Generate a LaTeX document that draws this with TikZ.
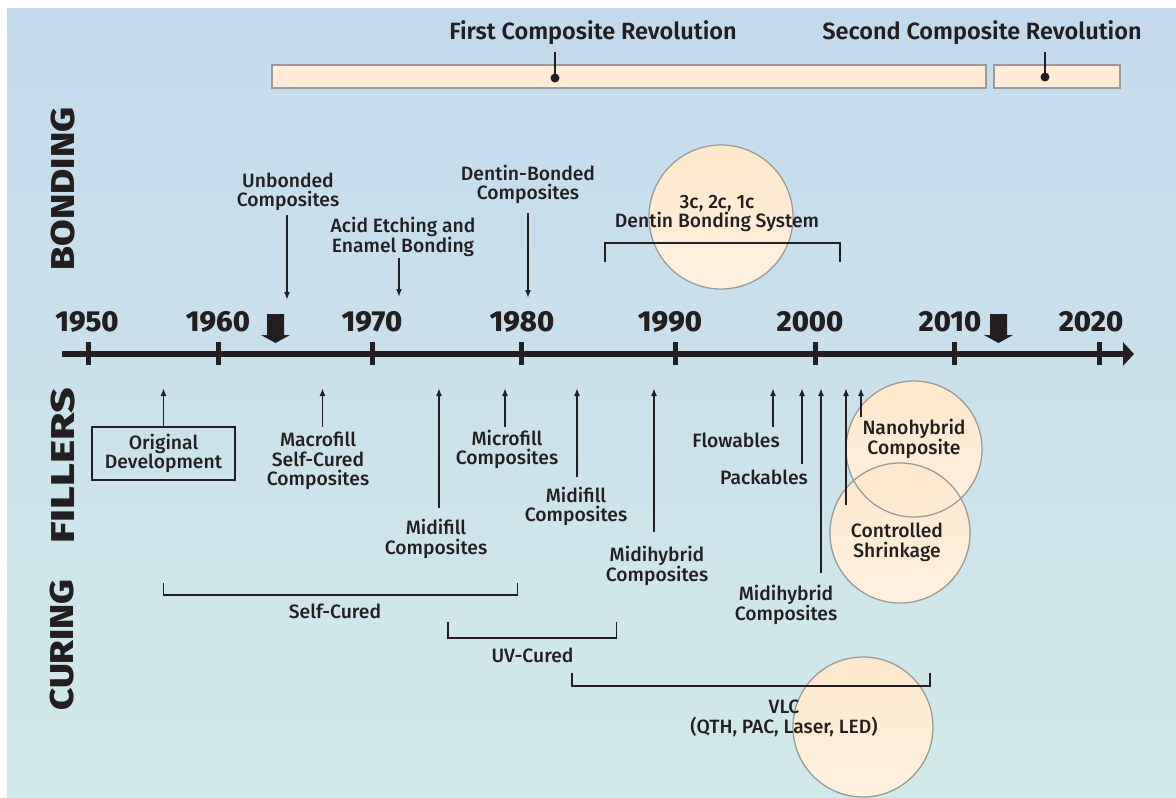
\documentclass[tikz,border=0pt]{standalone}
\usepackage{fontspec}
\setmainfont{Fira Sans}[UprightFont=* Medium, BoldFont=* SemiBold]
\newfontfamily\heavyfont{Fira Sans}[UprightFont=* ExtraBold]
\usetikzlibrary{arrows.meta}
\definecolor{txt}{HTML}{231F20}
\definecolor{bgtop}{HTML}{C3DAEE}
\definecolor{bgbot}{HTML}{D2E9E9}
\definecolor{circtop}{HTML}{FFE8CA}
\definecolor{circbot}{HTML}{FFF1E1}
\definecolor{barfill}{HTML}{FFEBD6}
\definecolor{edgegray}{HTML}{9A9A9A}
\newcommand\lblsize{\fontsize{19.3}{19.5}\selectfont}
\tikzset{
  lbl/.style={font=\lblsize, text=txt, align=center, inner sep=0pt},
  title/.style={font=\bfseries\fontsize{23.5}{26}\selectfont, text=txt, inner sep=0pt},
  yr/.style={font=\heavyfont\fontsize{29}{32}\selectfont, text=txt, inner sep=0pt},
  side/.style={font=\heavyfont\fontsize{33}{36}\selectfont, text=txt, inner sep=0pt, rotate=90},
  arr/.style={draw=txt, line width=1.6pt, -{Latex[length=8pt,width=6pt]}},
  brk/.style={draw=txt, line width=1.6pt},
  tick/.style={draw=txt, line width=5pt},
  axisline/.style={draw=txt, line width=6pt, -{Triangle[length=11pt,width=23pt]}},
  bar/.style={draw=edgegray, line width=1.8pt, fill=barfill, inner sep=0pt},
  pin/.style={draw=txt, line width=2pt},
  pindot/.style={circle, fill=txt, inner sep=0pt, minimum size=9pt},
  circfill/.style={circle, top color=circtop, bottom color=circbot, inner sep=0pt},
  circline/.style={draw=edgegray, line width=1.3pt},
  blockarrow/.style={fill=txt},
  box/.style={draw=txt, line width=1.6pt, inner sep=0pt, minimum width=143pt, minimum height=53pt, font=\lblsize, text=txt, align=center},
}
\begin{document}
\begin{tikzpicture}[x=1pt, y=-1pt]
\useasboundingbox (0,0) rectangle (1176,798);
\fill[white] (0,0) rectangle (1176,798);
\shade[top color=bgtop, bottom color=bgbot] (7,8) rectangle (1176,798);

% ---------- top revolution bars
\node[title] (t1) at (593,33) {First Composite Revolution};
\node[title] (t2) at (982,33) {Second Composite Revolution};
\node[bar, minimum width=714pt, minimum height=23pt] (bar1) at (629,76.5) {};
\node[bar, minimum width=126pt, minimum height=23pt] (bar2) at (1057,76.5) {};
\coordinate (p1top) at (555,52);
\node[pindot] (p1dot) at (555,78) {};
\draw[pin] (p1top) -- (p1dot.center);
\coordinate (p2top) at (1045,52);
\node[pindot] (p2dot) at (1045,77) {};
\draw[pin] (p2top) -- (p2dot.center);

% ---------- side labels
\node[side] (sb) at (63,189) {\scalebox{1.17}[1]{BONDING}};
\node[side] (sf) at (63,466) {\scalebox{1.34}[1]{FILLERS}};
\node[side] (sc) at (62,645) {\scalebox{1.16}[1]{CURING}};

% ---------- axis
\coordinate (axs) at (62,354);
\coordinate (axe) at (1134,354);
\draw[axisline] (axs) -- (axe);
\foreach \x/\n in {88/a,218/b,372/c,521/d,675/e,815/f,954/g,1099/h}{
  \coordinate (tk\n top) at (\x,342);
  \coordinate (tk\n bot) at (\x,365);
  \draw[tick] (tk\n top) -- (tk\n bot);
}
\node[yr] (y1950) at (87,322) {1950};
\node[yr] (y1960) at (218,322) {1960};
\node[yr] (y1970) at (372,322) {1970};
\node[yr] (y1980) at (522,322) {1980};
\node[yr] (y1990) at (670,322) {1990};
\node[yr] (y2000) at (810,322) {2000};
\node[yr] (y2010) at (950,322) {2010};
\node[yr] (y2020) at (1091,322) {2020};

% block arrows
\fill[blockarrow] (267,314) -- (284,314) -- (284,335) -- (290,335) -- (275.5,343) -- (261,335) -- (267,335) -- cycle;
\fill[blockarrow] (990,314) -- (1007,314) -- (1007,335) -- (1013,335) -- (998.5,343) -- (984,335) -- (990,335) -- cycle;

% ---------- bonding
\node[lbl] (unb) at (288,192) {Unbonded\\Composites};
\node[lbl] (acid) at (403,237) {Acid Etching and\\Enamel Bonding};
\node[lbl] (dbc) at (528,184.5) {Dentin-Bonded\\Composites};
\coordinate (unbS) at (287,215); \coordinate (unbE) at (287,300);
\coordinate (acidS) at (399,258); \coordinate (acidE) at (399,297);
\coordinate (dbcS) at (528,213); \coordinate (dbcE) at (528,298);
\draw[arr] (unbS) -- (unbE);
\draw[arr] (acidS) -- (acidE);
\draw[arr] (dbcS) -- (dbcE);

\node[circfill, minimum size=144pt] (cdbs) at (721,217) {};
\draw[circline] (cdbs.center) circle[radius=72];
\node[lbl] (dbs) at (717,213.5) {3c, 2c, 1c\\Dentin Bonding System};
\coordinate (dbsL) at (605,262); \coordinate (dbsR) at (840,262);
\draw[brk] (dbsL) -- (605,243) -- (840,243) -- (dbsR);

% ---------- fillers
\node[circfill, minimum size=136pt] (cnano) at (914,449) {};
\node[circfill, minimum size=140pt] (cctrl) at (900,533) {};
\draw[circline] (cnano.center) circle[radius=68];
\draw[circline] (cctrl.center) circle[radius=70];

\node[box] (orig) at (163.5,453.5) {Original\\Development};
\coordinate (origE) at (163.5,388);
\draw[arr] (orig.north) -- (origE);

\node[lbl] (macro) at (318,461) {Macrofill\\Self-Cured\\Composites};
\coordinate (macroS) at (322.5,427); \coordinate (macroE) at (322.5,388);
\draw[arr] (macroS) -- (macroE);

\node[lbl] (midi1) at (436,539) {Midifill\\Composites};
\coordinate (midi1S) at (439,508); \coordinate (midi1E) at (439,388);
\draw[arr] (midi1S) -- (midi1E);

\node[lbl] (micro) at (507,449.5) {Microfill\\Composites};
\coordinate (microS) at (505,427); \coordinate (microE) at (505,388);
\draw[arr] (microS) -- (microE);

\node[lbl] (midi2) at (576,506.5) {Midifill\\Composites};
\coordinate (midi2S) at (577,477); \coordinate (midi2E) at (577,388);
\draw[arr] (midi2S) -- (midi2E);

\node[lbl] (mh1) at (657,566) {Midihybrid\\Composites};
\coordinate (mh1S) at (654,532); \coordinate (mh1E) at (654,388);
\draw[arr] (mh1S) -- (mh1E);

\node[lbl] (flow) at (736,440) {Flowables};
\coordinate (flowS) at (773,427); \coordinate (flowE) at (773,388);
\draw[arr] (flowS) -- (flowE);

\node[lbl] (pack) at (764,477) {Packables};
\coordinate (packS) at (802,464); \coordinate (packE) at (802,388);
\draw[arr] (packS) -- (packE);

\node[lbl] (mh2) at (786,605) {Midihybrid\\Composites};
\coordinate (mh2S) at (821,573); \coordinate (mh2E) at (821,388);
\draw[arr] (mh2S) -- (mh2E);

\coordinate (ctrlS) at (846,505); \coordinate (ctrlE) at (846,388);
\draw[arr] (ctrlS) -- (ctrlE);
\coordinate (nanoS) at (861,417); \coordinate (nanoE) at (861,388);
\draw[arr] (nanoS) -- (nanoE);

\node[lbl] (nano) at (914,439) {Nanohybrid\\Composite};
\node[lbl] (ctrl) at (897,542.5) {Controlled\\Shrinkage};

% ---------- curing
\node[lbl] (self) at (335,611) {Self-Cured};
\coordinate (selfL) at (163.5,583); \coordinate (selfR) at (517.5,583);
\draw[brk] (selfL) -- (163.5,595) -- (517.5,595) -- (selfR);

\node[lbl] (uv) at (532.5,655) {UV-Cured};
\coordinate (uvL) at (448,622); \coordinate (uvR) at (616.5,622);
\draw[brk] (uvL) -- (448,638) -- (616.5,638) -- (uvR);

\node[circfill, minimum size=140pt] (cvlc) at (863,727) {};
\draw[circline] (cvlc.center) circle[radius=70];
\node[lbl] (vlc) at (784,718.5) {VLC\\(QTH, PAC, Laser, LED)};
\coordinate (vlcL) at (572,673); \coordinate (vlcR) at (930,673);
\draw[brk] (vlcL) -- (572,686) -- (930,686) -- (vlcR);
\end{tikzpicture}
\end{document}
